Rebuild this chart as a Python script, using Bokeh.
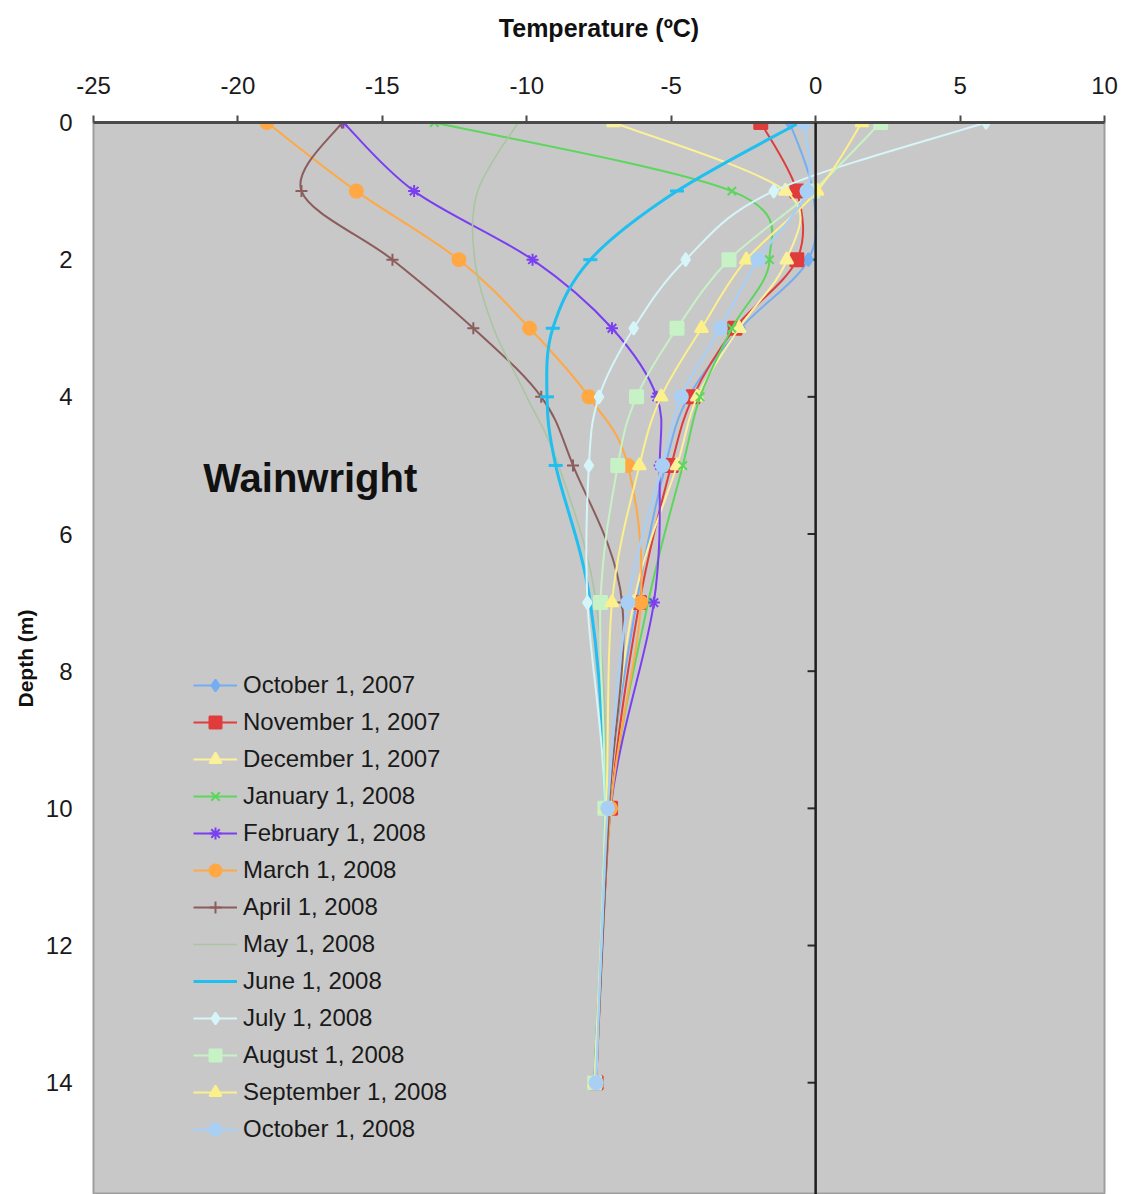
from bokeh.plotting import figure
from bokeh.models import (Range1d, FixedTicker, Span, Label, Legend, LegendItem,
                          ColumnDataSource)
from bokeh.embed import file_html
from bokeh.resources import INLINE

# Ground temperature profiles, Wainwright borehole
depths = [0, 1, 2, 3, 4, 5, 7, 10, 14]

series_names = [
    "October 1, 2007", "November 1, 2007", "December 1, 2007",
    "January 1, 2008", "February 1, 2008", "March 1, 2008",
    "April 1, 2008", "May 1, 2008", "June 1, 2008", "July 1, 2008",
    "August 1, 2008", "September 1, 2008", "October 1, 2008",
]

oct07 = [-0.9, -0.1, -0.25, -2.6, -4.4, -5.2, -6.2, -7.2, -7.6]
nov07 = [-1.9, -0.65, -0.65, -2.8, -4.25, -5.0, -6.1, -7.1, -7.6]
dec07 = [-7.0, -1.05, -1.0, -2.65, -4.1, -4.8, -6.3, -7.15, -7.6]
jan08 = [-13.2, -2.9, -1.6, -2.9, -4.0, -4.6, -5.8, -7.1, -7.6]
feb08 = [-16.35, -13.9, -9.8, -7.05, -5.5, -5.4, -5.6, -7.1, -7.6]
mar08 = [-19.0, -15.9, -12.35, -9.9, -7.85, -6.5, -6.05, -7.1, -7.6]
apr08 = [-16.4, -17.8, -14.65, -11.85, -9.5, -8.4, -6.7, -7.15, -7.6]
may08 = [-10.3, -11.7, -11.8, -11.15, -10.0, -8.9, -7.6, -7.25, -7.65]
jun08 = [-0.55, -4.8, -7.8, -9.1, -9.3, -9.0, -7.8, -7.3, -7.65]
jul08 = [5.9, -1.45, -4.5, -6.3, -7.5, -7.85, -7.9, -7.3, -7.65]
aug08 = [2.25, -0.1, -3.0, -4.8, -6.2, -6.85, -7.45, -7.3, -7.65]
sep08 = [1.6, 0.05, -2.4, -3.95, -5.35, -6.1, -7.05, -7.25, -7.65]
oct08 = [-0.4, -0.3, -2.0, -3.3, -4.65, -5.3, -6.5, -7.2, -7.6]

temps = [oct07, nov07, dec07, jan08, feb08, mar08, apr08, may08,
         jun08, jul08, aug08, sep08, oct08]

line_colors = ["#74aef2", "#e03c3c", "#fbf19a", "#5cd65c", "#7b3ff2", "#ffa844",
               "#8c5d5d", "#a9c6a0", "#1fbff0", "#d6f5f8", "#c6f2c6", "#fbf08a",
               "#a9cff5"]
markers = ["diamond", "square", "triangle", "x", "asterisk", "circle",
           "cross", None, "dash", "diamond", "square", "triangle", "circle"]
line_widths = [2, 2, 2, 2, 2, 2, 2, 1.6, 3, 2, 2, 2, 2.5]

x_ticks = [-25, -20, -15, -10, -5, 0, 5, 10]
y_ticks = [0, 2, 4, 6, 8, 10, 12, 14]

FONT = "Liberation Sans"


def smooth_segments(xs, ys):
    """Cubic Bezier segments through the points (Catmull-Rom style)."""
    n = len(xs)
    d = dict(x0=[], y0=[], x1=[], y1=[], cx0=[], cy0=[], cx1=[], cy1=[])
    for i in range(n - 1):
        pm = i - 1 if i > 0 else i
        pn = i + 2 if i + 2 < n else i + 1
        d["x0"].append(xs[i]); d["y0"].append(ys[i])
        d["x1"].append(xs[i + 1]); d["y1"].append(ys[i + 1])
        d["cx0"].append(xs[i] + (xs[i + 1] - xs[pm]) / 6.0)
        d["cy0"].append(ys[i] + (ys[i + 1] - ys[pm]) / 6.0)
        d["cx1"].append(xs[i + 1] - (xs[pn] - xs[i]) / 6.0)
        d["cy1"].append(ys[i + 1] - (ys[pn] - ys[i]) / 6.0)
    return d


p = figure(width=1122, height=1194, output_backend="svg", toolbar_location=None,
           x_range=Range1d(-25, 10), y_range=Range1d(15.63, 0),
           x_axis_location="above",
           min_border_left=93, min_border_right=18, min_border_top=122,
           min_border_bottom=0)

p.background_fill_color = "#c8c8c8"
p.border_fill_color = "white"
p.outline_line_color = "#9e9e9e"
p.outline_line_width = 2
p.xgrid.visible = False
p.ygrid.visible = False

# temperature axis along the top
xa = p.xaxis[0]
xa.ticker = FixedTicker(ticks=x_ticks)
xa.major_label_overrides = {t: str(t) for t in x_ticks}
xa.axis_line_color = "#4a4a4a"
xa.axis_line_width = 3
xa.major_tick_line_color = "#4a4a4a"
xa.major_tick_line_width = 2
xa.major_tick_out = 7
xa.major_tick_in = 0
xa.minor_tick_out = 0
xa.minor_tick_in = 0
xa.major_label_text_font = FONT
xa.major_label_text_font_size = "24px"
xa.major_label_text_color = "#1a1a1a"
xa.major_label_standoff = 22
xa.axis_label = "Temperature (ºC)"
xa.axis_label_text_font = FONT
xa.axis_label_text_font_style = "bold"
xa.axis_label_text_font_size = "25px"
xa.axis_label_text_color = "#111111"
xa.axis_label_standoff = 32

# depth axis: labels on the left, line drawn at 0 °C
ya = p.yaxis[0]
ya.ticker = FixedTicker(ticks=y_ticks)
ya.axis_line_color = None
ya.major_tick_line_color = None
ya.minor_tick_line_color = None
ya.major_tick_out = 0
ya.major_tick_in = 0
ya.minor_tick_out = 0
ya.minor_tick_in = 0
ya.major_label_text_font = FONT
ya.major_label_text_font_size = "24px"
ya.major_label_text_color = "#1a1a1a"
ya.major_label_standoff = 21
ya.axis_label = "Depth (m)"
ya.axis_label_text_font = FONT
ya.axis_label_text_font_style = "bold"
ya.axis_label_text_font_size = "21px"
ya.axis_label_text_color = "#111111"
ya.axis_label_standoff = 6

p.add_layout(Span(location=0, dimension="height", line_color="#1e1e1e",
                  line_width=2.5))
p.segment(x0=[-0.28] * len(y_ticks), y0=y_ticks, x1=[0] * len(y_ticks),
          y1=y_ticks, line_color="#2a2a2a", line_width=2)

items = []
for name, t, col, mk, lw in zip(series_names, temps, line_colors, markers,
                                line_widths):
    src = ColumnDataSource(smooth_segments(t, depths))
    r_line = p.bezier(x0="x0", y0="y0", x1="x1", y1="y1", cx0="cx0", cy0="cy0",
                      cx1="cx1", cy1="cy1", source=src, line_color=col,
                      line_width=lw)
    rs = [r_line]
    if mk is not None:
        size = 13
        if mk in ("x", "asterisk", "cross"):
            size = 12
        if mk == "dash":
            size = 14
        r_pts = p.scatter(x=t, y=depths, marker=mk, size=size, fill_color=col,
                          line_color=col, line_width=3 if mk == "dash" else 2)
        rs.append(r_pts)
    items.append(LegendItem(label=name, renderers=rs))

legend = Legend(items=items, location=(100, 50))
legend.background_fill_alpha = 0
legend.border_line_color = None
legend.padding = 0
legend.margin = 0
legend.spacing = 7
legend.glyph_height = 30
legend.label_height = 30
legend.glyph_width = 44
legend.label_standoff = 6
legend.label_text_font = FONT
legend.label_text_font_size = "24px"
legend.label_text_color = "#1a1a1a"
p.add_layout(legend)

p.add_layout(Label(x=-21.2, y=5.19, text="Wainwright", text_font=FONT,
                   text_font_style="bold", text_font_size="40px",
                   text_color="#111111", text_baseline="middle"))

open("out.html", "w").write(file_html(p, INLINE))
